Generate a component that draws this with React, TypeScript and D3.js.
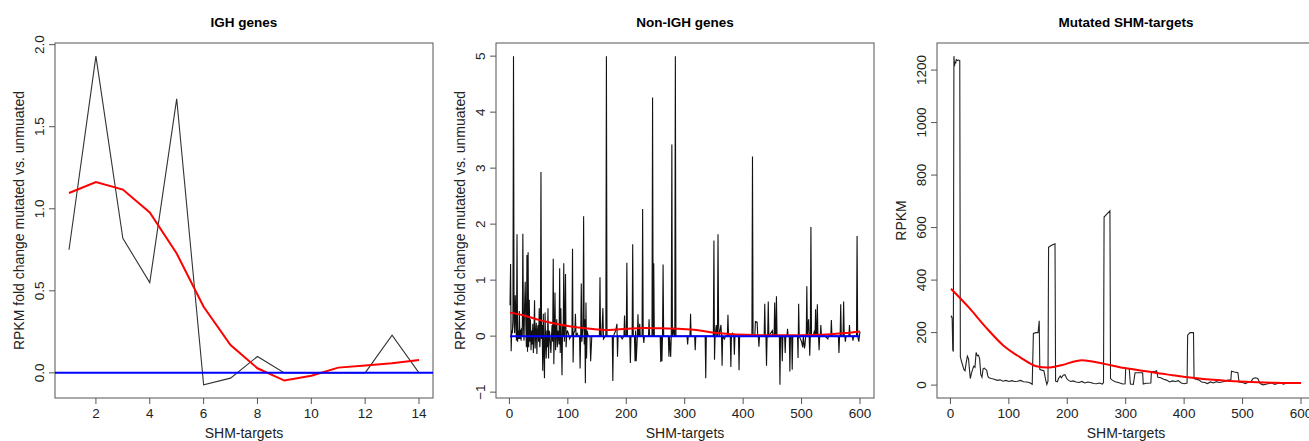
import React from 'react';
import * as d3 from 'd3';

// ---------- Panel 1: IGH genes ----------
const ighTargets = [1, 2, 3, 4, 5, 6, 7, 8, 9, 10, 11, 12, 13, 14];
const ighFold = [0.75, 1.93, 0.82, 0.55, 1.67, -0.073, -0.032, 0.1, 0.0, 0.0, 0.0, 0.0, 0.23, 0.0];
const ighLoess = [1.096, 1.163, 1.117, 0.977, 0.727, 0.403, 0.17, 0.028, -0.047, -0.018, 0.032, 0.045, 0.059, 0.079];
const ighXTicks = [2, 4, 6, 8, 10, 12, 14];
const ighYTicks = [0, 0.5, 1, 1.5, 2];

// ---------- Panel 2: Non-IGH genes (target index, fold change) ----------
const nonIghFold: [number, number][] = [
  [1,0.55],[2,1.29],[3,-0.27],[4,0.1],[5,0.05],[6,0.3],[7,5.0],[8,0.2],[9,0.05],[10,0.73],[11,0.3],[12,-0.08],[13,1.82],[14,-0.1],[15,0.1],[16,-0.05],[17,0.45],[18,-0.05],[19,0.12],[20,-0.08],[21,0.15],[22,0.0],[23,1.83],[24,0.2],[25,-0.08],[26,0.55],[27,0.97],[28,0.3],[29,-0.2],[30,1.45],[31,-0.28],[32,1.5],[33,-0.2],[34,0.65],[35,-0.1],[36,0.3],[37,-0.25],[38,0.1],[39,-0.15],[40,0.22],[41,-0.3],[42,0.05],[43,0.64],[44,-0.22],[45,0.05],[46,0.24],[47,-0.32],[48,0.1],[49,0.2],[50,-0.1],[51,0.5],[52,-0.2],[53,0.0],[54,2.93],[55,-0.05],[56,0.2],[57,-0.62],[58,0.4],[59,-0.3],[60,-0.75],[61,0.42],[62,-0.1],[63,-0.4],[64,0.1],[65,-0.2],[66,0.5],[67,-0.4],[68,0.1],[69,0.05],[70,-0.15],[71,-0.3],[72,0.0],[73,0.2],[74,-0.1],[75,1.38],[76,-0.5],[77,0.1],[78,0.78],[79,-0.25],[80,0.05],[81,0.3],[82,-0.2],[83,0.1],[84,0.0],[85,-0.15],[86,1.21],[87,-0.3],[88,0.5],[89,-0.1],[90,-0.7],[91,0.2],[92,0.0],[93,1.3],[94,-0.1],[95,0.2],[96,1.11],[97,-0.2],[98,0.0],[99,0.1],[101,0.05],[103,-0.05],[105,0.0],[107,0.0],[108,1.56],[109,-0.47],[110,0.05],[112,0.1],[113,0.4],[114,0.0],[116,0.05],[118,0.0],[120,0.0],[121,-0.58],[122,0.0],[123,0.94],[124,-0.1],[126,0.2],[127,2.14],[128,-0.15],[129,0.3],[130,-0.84],[131,0.6],[132,-0.4],[133,0.1],[135,0.0],[138,0.0],[139,-0.45],[141,0.0],[150,0.0],[154,0.0],[155,1.05],[156,0.0],[158,0.0],[160,0.5],[161,-0.05],[164,0.0],[165,0.0],[166,5.0],[167,0.0],[172,0.0],[176,0.0],[177,-0.8],[178,0.0],[182,0.1],[184,0.22],[185,-0.37],[186,0.0],[190,0.0],[193,-0.05],[196,0.0],[197,0.37],[198,0.0],[200,0.0],[201,1.31],[202,0.0],[205,0.0],[206,0.0],[207,-0.48],[208,0.0],[210,0.0],[211,1.64],[212,0.0],[214,0.0],[215,-0.45],[216,0.1],[217,-0.45],[219,0.0],[220,0.39],[221,0.0],[222,0.0],[223,0.22],[224,0.0],[227,0.0],[228,2.27],[229,0.0],[230,-0.12],[231,0.0],[236,0.0],[238,0.0],[239,0.3],[240,0.0],[244,0.0],[245,4.26],[246,0.0],[247,1.3],[248,0.0],[252,0.0],[258,0.0],[259,-0.46],[260,0.0],[261,-0.45],[262,0.0],[263,1.28],[264,0.0],[268,0.0],[272,0.0],[273,-0.37],[274,0.0],[276,-0.37],[277,0.0],[278,3.42],[279,0.0],[281,0.15],[282,0.0],[283,0.0],[284,5.0],[285,0.0],[300,0.0],[304,0.0],[305,-0.15],[306,0.0],[309,0.0],[310,0.4],[311,0.0],[315,0.0],[317,0.0],[318,-0.25],[319,0.0],[330,0.0],[335,0.0],[336,-0.75],[337,0.0],[345,0.0],[349,0.0],[350,1.71],[351,-0.42],[352,0.0],[354,0.2],[355,0.0],[356,0.0],[357,1.82],[358,0.2],[359,0.0],[362,0.2],[363,0.0],[364,-0.53],[365,0.0],[368,-0.05],[370,0.0],[373,0.0],[374,0.38],[375,0.0],[378,0.0],[379,-0.55],[380,0.0],[382,0.05],[384,0.0],[385,-0.33],[386,0.0],[390,0.0],[392,0.0],[393,-0.61],[394,0.0],[405,0.0],[415,0.0],[416,3.21],[417,0.0],[420,0.0],[421,0.26],[424,0.25],[425,0.0],[426,0.0],[427,-0.19],[428,0.0],[435,0.0],[436,0.0],[437,0.58],[438,0.0],[439,0.0],[440,-0.53],[441,0.0],[442,0.0],[443,0.62],[444,0.0],[450,0.1],[451,0.0],[453,0.0],[454,0.6],[455,0.0],[456,0.0],[457,0.71],[458,0.0],[460,0.0],[462,0.0],[463,-0.87],[464,0.0],[466,0.0],[467,-0.45],[468,0.0],[470,0.0],[471,0.0],[472,-0.3],[473,0.0],[475,0.0],[476,0.13],[477,0.0],[479,0.0],[480,-0.63],[481,0.0],[483,0.0],[484,-0.6],[485,0.0],[490,0.0],[493,0.0],[494,-0.39],[495,0.58],[496,0.0],[500,-0.1],[502,-0.2],[503,0.0],[505,-0.22],[506,-0.15],[507,0.0],[508,0.0],[509,0.89],[510,0.0],[512,0.3],[513,0.0],[514,-0.35],[515,0.0],[516,1.95],[517,0.0],[520,0.0],[522,0.1],[523,0.0],[524,0.48],[525,0.0],[526,0.0],[527,0.57],[528,0.0],[529,0.0],[530,-0.25],[531,0.0],[532,0.0],[533,0.2],[534,0.0],[540,0.0],[545,-0.05],[546,0.0],[550,0.0],[551,0.29],[552,0.0],[560,0.0],[563,0.0],[564,-0.3],[565,0.0],[566,0.0],[567,0.57],[568,0.0],[571,0.0],[572,0.62],[573,0.0],[574,0.0],[575,-0.1],[576,0.0],[580,0.0],[581,0.0],[582,0.2],[583,0.0],[587,0.0],[588,-0.08],[589,0.0],[592,0.0],[594,0.0],[595,1.79],[596,0.0],[598,-0.1],[599,0.0],[600,0.08]
];
const nonIghLoess: [number, number][] = [
  [1,0.42],[25,0.37],[50,0.29],[75,0.23],[100,0.18],[125,0.145],[150,0.12],[170,0.11],[200,0.13],[230,0.145],[260,0.14],[290,0.13],[320,0.11],[347,0.066],[375,0.04],[404,0.024],[430,0.017],[460,0.015],[490,0.015],[517,0.02],[550,0.035],[575,0.055],[600,0.085]
];
const nonIghBaseline: [number, number][] = [[1, 0], [600, 0]];
const nonIghXTicks = [0, 100, 200, 300, 400, 500, 600];
const nonIghYTicks = [-1, 0, 1, 2, 3, 4, 5];

// ---------- Panel 3: Mutated SHM-targets (target index, RPKM) ----------
const shmRpkm: [number, number][] = [
  [1,258],[2,262],[3,255],[4,135],[5,128],[6,1253],[7,1215],[8,1232],[9,1225],[10,1240],[12,1236],[14,1238],[16,1236],[17,108],[19,90],[21,75],[23,60],[25,55],[27,85],[29,110],[31,100],[33,50],[34,25],[36,45],[38,60],[40,72],[42,68],[44,124],[46,112],[48,114],[50,100],[52,40],[54,30],[56,63],[58,65],[60,60],[62,57],[64,35],[66,28],[70,25],[75,22],[80,18],[85,20],[90,15],[95,18],[100,14],[105,17],[110,14],[115,15],[120,18],[125,13],[130,12],[135,10],[140,3],[142,197],[146,200],[150,200],[152,245],[153,60],[156,57],[160,55],[163,20],[165,3],[167,15],[168,525],[171,530],[175,535],[179,538],[180,15],[183,13],[185,25],[188,35],[190,28],[193,38],[196,40],[199,25],[202,18],[206,14],[210,16],[215,12],[220,10],[225,14],[230,8],[235,12],[240,10],[245,6],[250,5],[255,8],[260,4],[262,10],[263,640],[268,652],[273,664],[274,25],[277,19],[282,13],[290,8],[295,4],[299,5],[300,63],[306,63],[308,4],[313,3],[316,47],[322,47],[329,47],[330,4],[335,7],[343,8],[344,52],[350,52],[353,55],[355,30],[360,28],[365,22],[370,19],[375,12],[380,16],[385,14],[390,17],[395,8],[400,5],[405,8],[406,190],[410,200],[416,200],[417,25],[420,22],[425,20],[430,12],[435,10],[440,6],[445,12],[450,8],[455,13],[460,10],[465,12],[470,15],[475,19],[480,20],[481,53],[486,50],[492,47],[494,12],[500,10],[505,6],[510,12],[515,15],[518,25],[522,28],[526,25],[530,6],[535,1],[540,3],[545,6],[550,8],[555,3],[560,6],[565,8],[570,4],[575,7],[580,6],[585,8],[590,7],[595,9],[600,8]
];
const shmLoess: [number, number][] = [
  [1,367],[33,292],[60,222],[90,152],[120,105],[147,72],[166,67],[190,76],[225,95],[265,80],[290,68],[323,57],[350,47],[380,38],[410,29],[438,22],[470,17],[495,14],[525,11],[553,9],[580,8],[600,8]
];
const shmXTicks = [0, 100, 200, 300, 400, 500, 600];
const shmYTicks = [0, 200, 400, 600, 800, 1000, 1200];

// ---------- layout ----------
const W = 1309;
const H = 441;
const BOX_TOP = 43;
const BOX_BOTTOM = 398;
const BOX_W = 378;
const FONT = "'Liberation Sans', Arial, Helvetica, sans-serif";

function rExtent(vals: number[]): [number, number] {
  const lo = d3.min(vals) as number;
  const hi = d3.max(vals) as number;
  const pad = (hi - lo) * 0.04;
  return [lo - pad, hi + pad];
}

type PanelProps = {
  left: number;
  title: string;
  ylab: string;
  black: [number, number][];
  red: [number, number][];
  redCurve: d3.CurveFactory;
  blueFull?: boolean;
  blueSeg?: [number, number][];
  xTicks: number[];
  yTicks: number[];
  yFmt: (v: number) => string;
  blackColor: string;
};

function Panel(p: PanelProps) {
  const xs = p.black.map((d) => d[0]);
  const ys = p.black.map((d) => d[1]);
  const x = d3.scaleLinear().domain(rExtent(xs)).range([p.left, p.left + BOX_W]);
  const y = d3.scaleLinear().domain(rExtent(ys)).range([BOX_BOTTOM, BOX_TOP]);
  const line = d3.line<[number, number]>().x((d) => x(d[0])).y((d) => y(d[1]));
  const redLine = d3
    .line<[number, number]>()
    .x((d) => x(d[0]))
    .y((d) => y(d[1]))
    .curve(p.redCurve);
  const cx = p.left + BOX_W / 2;
  const cy = (BOX_TOP + BOX_BOTTOM) / 2;
  const axisColor = '#555';
  return (
    <g>
      <text x={cx} y={27} textAnchor="middle" fontWeight="bold" fontSize={13.5} fill="#000">
        {p.title}
      </text>
      <rect
        x={p.left}
        y={BOX_TOP}
        width={BOX_W}
        height={BOX_BOTTOM - BOX_TOP}
        fill="none"
        stroke={axisColor}
        strokeWidth={1}
      />
      {p.xTicks.map((t) => (
        <g key={'x' + t}>
          <line x1={x(t)} x2={x(t)} y1={BOX_BOTTOM} y2={BOX_BOTTOM + 6} stroke={axisColor} />
          <text x={x(t)} y={418} textAnchor="middle" fontSize={13.5} fill="#222">
            {t}
          </text>
        </g>
      ))}
      {p.yTicks.map((t) => (
        <g key={'y' + t}>
          <line x1={p.left - 6} x2={p.left} y1={y(t)} y2={y(t)} stroke={axisColor} />
          <text
            transform={`translate(${p.left - 11},${y(t)}) rotate(-90)`}
            textAnchor="middle"
            fontSize={13.5}
            fill="#222"
          >
            {p.yFmt(t)}
          </text>
        </g>
      ))}
      <text x={cx} y={438} textAnchor="middle" fontSize={14} fill="#222">
        SHM-targets
      </text>
      <text
        transform={`translate(${p.left - 31},${cy}) rotate(-90)`}
        textAnchor="middle"
        fontSize={14}
        fill="#222"
      >
        {p.ylab}
      </text>
      <path d={line(p.black) || ''} fill="none" stroke={p.blackColor} strokeWidth={1.1} />
      <path d={redLine(p.red) || ''} fill="none" stroke="#ff0000" strokeWidth={2} />
      {p.blueFull && (
        <line x1={p.left} x2={p.left + BOX_W} y1={y(0)} y2={y(0)} stroke="#0000ff" strokeWidth={2} />
      )}
      {p.blueSeg && (
        <path d={line(p.blueSeg) || ''} fill="none" stroke="#0000ff" strokeWidth={2} />
      )}
    </g>
  );
}

export default function App() {
  const ighBlack = ighTargets.map((t, i) => [t, ighFold[i]] as [number, number]);
  const ighRed = ighTargets.map((t, i) => [t, ighLoess[i]] as [number, number]);
  return (
    <svg
      width={W}
      height={H}
      style={{ position: 'absolute', left: 0, top: 0, background: '#fff' }}
      fontFamily={FONT}
    >
      <rect x={0} y={0} width={W} height={H} fill="#fff" />
      <Panel
        left={55}
        title="IGH genes"
        ylab="RPKM fold change mutated vs. unmuated"
        black={ighBlack}
        red={ighRed}
        redCurve={d3.curveLinear}
        blueFull
        xTicks={ighXTicks}
        yTicks={ighYTicks}
        yFmt={d3.format('.1f')}
        blackColor="#333"
      />
      <Panel
        left={496}
        title="Non-IGH genes"
        ylab="RPKM fold change mutated vs. unmuated"
        black={nonIghFold}
        red={nonIghLoess}
        redCurve={d3.curveMonotoneX}
        blueSeg={nonIghBaseline}
        xTicks={nonIghXTicks}
        yTicks={nonIghYTicks}
        yFmt={d3.format('d')}
        blackColor="#111"
      />
      <Panel
        left={937}
        title="Mutated SHM-targets"
        ylab="RPKM"
        black={shmRpkm}
        red={shmLoess}
        redCurve={d3.curveMonotoneX}
        xTicks={shmXTicks}
        yTicks={shmYTicks}
        yFmt={d3.format('d')}
        blackColor="#222"
      />
    </svg>
  );
}
